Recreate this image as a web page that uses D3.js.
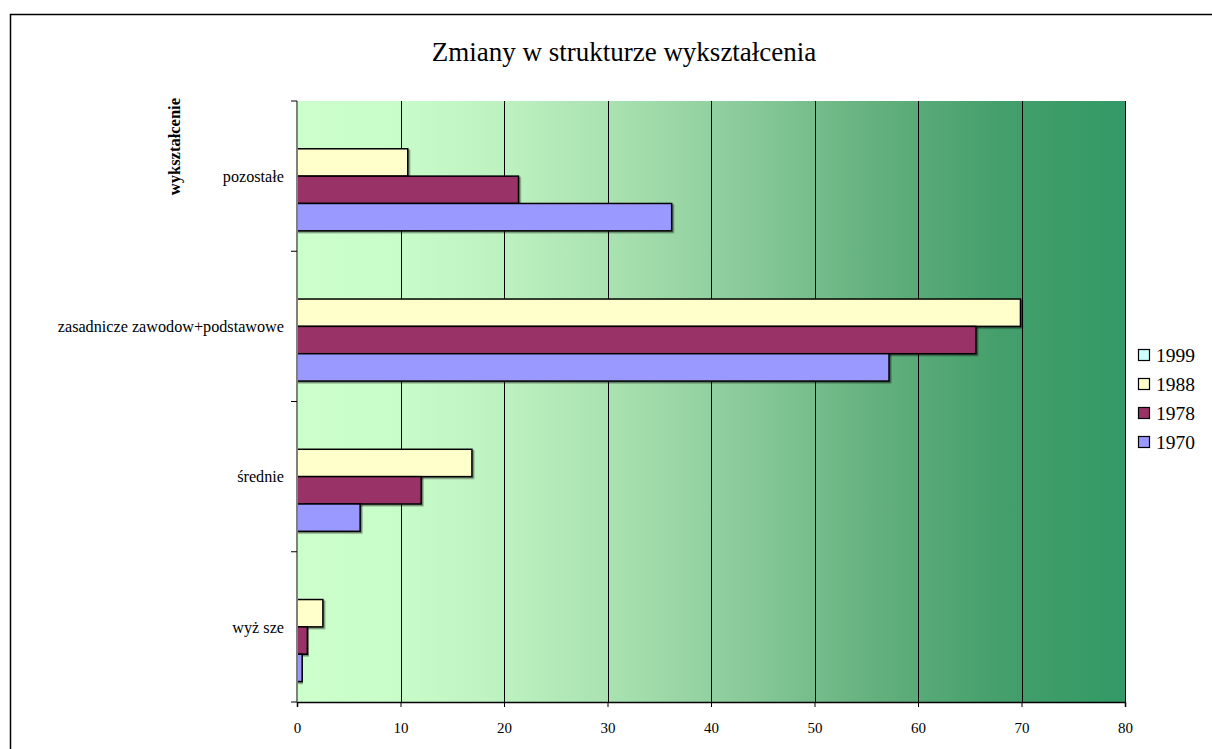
<!DOCTYPE html>
<html>
<head>
<meta charset="utf-8">
<script src="https://cdn.jsdelivr.net/npm/d3@7"></script>
<style>
  body { margin: 0; background: #fff; }
  text { font-family: "Liberation Serif", "Times New Roman", serif; fill: #000; }
</style>
</head>
<body>
<script>
// categories, top to bottom as drawn
const categories = ['pozostałe', 'zasadnicze zawodow+podstawowe', 'średnie', 'wyż sze'];
// series, top slot to bottom slot within a group (same order as legend)
const seriesNames = ['1999', '1988', '1978', '1970'];
const seriesColors = ['#ccffff', '#ffffcc', '#993366', '#9999ff'];
const values1999 = [0, 0, 0, 0];
const values1988 = [10.7, 69.9, 16.9, 2.5];
const values1978 = [21.4, 65.6, 12.0, 1.0];
const values1970 = [36.2, 57.2, 6.1, 0.5];
const xTicks = [0, 10, 20, 30, 40, 50, 60, 70, 80];

const seriesValues = [values1999, values1988, values1978, values1970];

const W = 1212, H = 749;
const plot = { left: 297, right: 1125, top: 101, bottom: 702 };
const FONT = '"Liberation Serif", "Times New Roman", serif';

const svg = d3.select('body').append('svg')
  .attr('width', W).attr('height', H);

// background gradient
const defs = svg.append('defs');
const grad = defs.append('linearGradient').attr('id', 'bg')
  .attr('x1', 0).attr('x2', 1).attr('y1', 0).attr('y2', 0);
[[0, '#ccffcc'], [0.12, '#c8fcc9'], [0.25, '#bdf1c0'], [0.4, '#a6dfae'],
 [0.55, '#88c999'], [0.7, '#63b07e'], [0.85, '#449f6b'], [1, '#339966']]
  .forEach(([o, c]) => grad.append('stop').attr('offset', o).attr('stop-color', c));

const shadow = defs.append('filter').attr('id', 'shadow')
  .attr('x', '-5%').attr('y', '-5%').attr('width', '120%').attr('height', '130%');
shadow.append('feDropShadow').attr('dx', 1.5).attr('dy', 1.5)
  .attr('stdDeviation', 0.6).attr('flood-color', '#000').attr('flood-opacity', 0.45);

// chart border
svg.append('path')
  .attr('d', `M10.5,${H} L10.5,14.5 L${W},14.5`)
  .attr('fill', 'none').attr('stroke', '#000').attr('stroke-width', 1.5);

const x = d3.scaleLinear().domain([0, 80]).range([plot.left, plot.right]);
const y0 = d3.scaleBand().domain(categories).range([plot.top, plot.bottom])
  .paddingInner(0.272).paddingOuter(0.136);
const y1 = d3.scaleBand().domain(seriesNames).range([0, y0.bandwidth()]);

svg.append('rect')
  .attr('x', plot.left).attr('y', plot.top)
  .attr('width', plot.right - plot.left).attr('height', plot.bottom - plot.top)
  .attr('fill', 'url(#bg)');

// vertical gridlines
svg.append('g').selectAll('line').data(xTicks.slice(1)).join('line')
  .attr('x1', d => Math.round(x(d)) + 0.5).attr('x2', d => Math.round(x(d)) + 0.5)
  .attr('y1', plot.top).attr('y2', plot.bottom)
  .attr('stroke', '#000').attr('stroke-width', 1);

// bars
const groups = svg.append('g').selectAll('g').data(categories).join('g')
  .attr('transform', d => `translate(0,${y0(d)})`);
groups.selectAll('rect')
  .data((c, ci) => seriesNames.map((s, si) => ({ s, si, v: seriesValues[si][ci] })))
  .join('rect')
  .filter(d => d.v > 0)
  .attr('x', x(0))
  .attr('y', d => y1(d.s))
  .attr('width', d => x(d.v) - x(0))
  .attr('height', y1.bandwidth())
  .attr('fill', d => seriesColors[d.si])
  .attr('stroke', '#000').attr('stroke-width', 1.5)
  .attr('filter', 'url(#shadow)');

// x axis
const xAxis = svg.append('g')
  .attr('transform', `translate(0,${plot.bottom})`)
  .call(d3.axisBottom(x).tickValues(xTicks).tickSize(5).tickPadding(15));
xAxis.attr('font-family', FONT);
xAxis.select('.domain').attr('stroke', '#000').attr('stroke-width', 1.5);
xAxis.selectAll('.tick line').attr('stroke', '#000');
xAxis.selectAll('text').attr('font-size', 15);

// y axis: category boundary ticks
const boundaries = categories.map(c => y0(c) - y0.step() * y0.paddingInner() / 2);
boundaries.push(plot.bottom);
const yAx = svg.append('g');
yAx.append('line')
  .attr('x1', plot.left).attr('x2', plot.left)
  .attr('y1', plot.top).attr('y2', plot.bottom)
  .attr('stroke', '#808080').attr('stroke-width', 2);
yAx.selectAll('.bt').data(boundaries).join('line')
  .attr('class', 'bt')
  .attr('x1', plot.left - 6).attr('x2', plot.left)
  .attr('y1', d => Math.max(plot.top, d)).attr('y2', d => Math.max(plot.top, d))
  .attr('stroke', '#000').attr('stroke-width', 1);
yAx.selectAll('text').data(categories).join('text')
  .attr('x', 284)
  .attr('y', d => y0(d) + y0.bandwidth() / 2)
  .attr('dy', '0.35em')
  .attr('text-anchor', 'end')
  .attr('font-size', 16.2)
  .text(d => d);

// y axis title
svg.append('text')
  .attr('transform', 'translate(180,98) rotate(-90)')
  .attr('text-anchor', 'end')
  .attr('font-size', 16.5)
  .attr('font-weight', 'bold')
  .text('wykształcenie');

// chart title
svg.append('text')
  .attr('x', 624).attr('y', 61)
  .attr('text-anchor', 'middle')
  .attr('font-size', 27)
  .text('Zmiany w strukturze wykształcenia');

// legend
const legend = svg.append('g').attr('transform', 'translate(1138,355)');
const li = legend.selectAll('g').data(seriesNames).join('g')
  .attr('transform', (d, i) => `translate(0,${i * 29})`);
li.append('rect')
  .attr('x', 0.5).attr('y', -5.5).attr('width', 11).attr('height', 11)
  .attr('fill', (d, i) => seriesColors[i])
  .attr('stroke', '#000').attr('stroke-width', 1.2);
li.append('text')
  .attr('x', 18).attr('y', 0).attr('dy', '0.35em')
  .attr('font-size', 19.5)
  .text(d => d);
</script>
</body>
</html>
